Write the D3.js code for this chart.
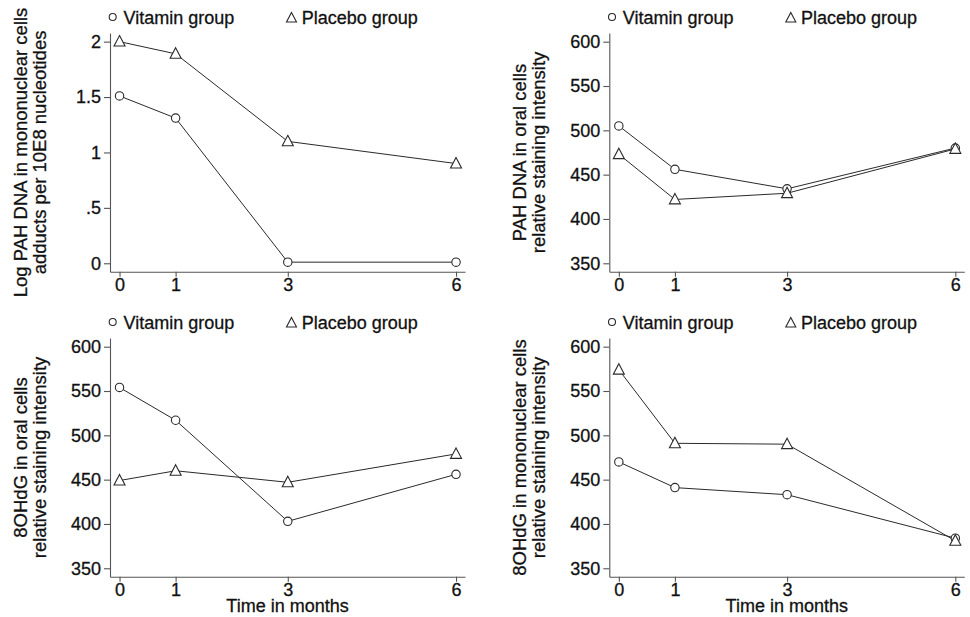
<!DOCTYPE html>
<html lang="en">
<head>
  <meta charset="UTF-8">
  <script src="https://cdn.jsdelivr.net/npm/d3@7"></script>
  <title>Vitamin vs placebo</title>
  <style>
    body { margin: 0; background: #fff; }
    svg { display: block; }
    text { font-family: "Liberation Sans", Arial, sans-serif; fill: #111; stroke: #111; stroke-width: 0.3px; }
  </style>
</head>
<body>
<div id="chart"></div>
<script>
  // months on the x axis
  var months = [0, 1, 3, 6];

  // series
  var pahMonoVitamin  = [1.51, 1.31, 0.01, 0.01];
  var pahMonoPlacebo  = [2.00, 1.89, 1.10, 0.90];
  var pahOralVitamin  = [505, 456, 434, 480];
  var pahOralPlacebo  = [473, 422, 429, 479];
  var ohdgOralVitamin = [554, 517, 403, 456];
  var ohdgOralPlacebo = [449, 460, 447, 479];
  var ohdgMonoVitamin = [470, 441, 433, 384];
  var ohdgMonoPlacebo = [574, 491, 490, 381];

  // tick labels
  var logTicks = [0, 0.5, 1, 1.5, 2];
  var logTickLabels = ["0", ".5", "1", "1.5", "2"];
  var stainTicks = [350, 400, 450, 500, 550, 600];
  var legendLabels = ["Vitamin group", "Placebo group"];

  var width = 970, height = 617;
  var svg = d3.select("#chart").append("svg")
      .attr("width", width)
      .attr("height", height);

  var lineColor = "#2a2a2a", axisColor = "#555";

  var panels = [
    { left: 110,   top: 33,  bottom: 271.7, yDomain: [-0.076, 2.078], ticks: logTicks, tickLabels: logTickLabels,
      vit: pahMonoVitamin, pla: pahMonoPlacebo,
      title: ["Log PAH DNA in mononuclear cells", "adducts per 10E8 nucleotides"], xTitle: false },
    { left: 609.3, top: 33,  bottom: 271.7, yDomain: [340.5, 609.8], ticks: stainTicks, tickLabels: null,
      vit: pahOralVitamin, pla: pahOralPlacebo,
      title: ["PAH DNA in oral cells", "relative staining intensity"], xTitle: false },
    { left: 110,   top: 338, bottom: 576.7, yDomain: [340.5, 609.8], ticks: stainTicks, tickLabels: null,
      vit: ohdgOralVitamin, pla: ohdgOralPlacebo,
      title: ["8OHdG in oral cells", "relative staining intensity"], xTitle: true },
    { left: 609.3, top: 338, bottom: 576.7, yDomain: [340.5, 609.8], ticks: stainTicks, tickLabels: null,
      vit: ohdgMonoVitamin, pla: ohdgMonoPlacebo,
      title: ["8OHdG in mononuclear cells", "relative staining intensity"], xTitle: true }
  ];

  var triangle = function(s) {
    return "M0," + (-s * 0.55) + "L" + (s * 0.5) + "," + (s * 0.4) + "L" + (-s * 0.5) + "," + (s * 0.4) + "Z";
  };

  panels.forEach(function(p) {
    var x = d3.scaleLinear().domain([-0.17, 6.16]).range([p.left, p.left + 355]);
    var y = d3.scaleLinear().domain(p.yDomain).range([p.bottom, p.top]);
    var g = svg.append("g");

    // axes
    var yAxis = d3.axisLeft(y).tickValues(p.ticks).tickSize(6).tickSizeOuter(0).tickPadding(3);
    if (p.tickLabels) yAxis.tickFormat(function(d, i) { return p.tickLabels[i]; });
    var ya = g.append("g").attr("transform", "translate(" + p.left + ",0)").call(yAxis);

    var xa = g.append("g").attr("transform", "translate(0," + p.bottom + ")")
      .call(d3.axisBottom(x).tickValues(months).tickSize(5).tickSizeOuter(0).tickPadding(2).tickFormat(d3.format("d")));

    [ya, xa].forEach(function(a) {
      a.selectAll("path, line").attr("stroke", axisColor).attr("stroke-width", 1.1);
      a.selectAll("text").attr("font-size", 18).attr("fill", "#111")
        .style("font-family", "'Liberation Sans', Arial, sans-serif");
    });

    // y title, two lines
    var cy = (y(p.ticks[0]) + y(p.ticks[p.ticks.length - 1])) / 2;
    p.title.forEach(function(t, i) {
      g.append("text")
        .attr("transform", "translate(" + (p.left - 83 + i * 18.5) + "," + cy + ") rotate(-90)")
        .attr("text-anchor", "middle")
        .attr("font-size", 18.5)
        .text(t);
    });

    if (p.xTitle) {
      g.append("text")
        .attr("x", p.left + 177.5)
        .attr("y", p.bottom + 35.5)
        .attr("text-anchor", "middle")
        .attr("font-size", 18)
        .text("Time in months");
    }

    // lines
    var line = d3.line()
      .x(function(d, i) { return x(months[i]); })
      .y(function(d) { return y(d); });

    [p.vit, p.pla].forEach(function(series) {
      g.append("path")
        .datum(series)
        .attr("fill", "none")
        .attr("stroke", lineColor)
        .attr("stroke-width", 1)
        .attr("d", line);
    });

    // markers
    g.selectAll(".vit")
      .data(p.vit)
      .enter().append("circle")
      .attr("cx", function(d, i) { return x(months[i]); })
      .attr("cy", function(d) { return y(d); })
      .attr("r", 4.2)
      .attr("fill", "#fff")
      .attr("stroke", lineColor)
      .attr("stroke-width", 1.1);

    g.selectAll(".pla")
      .data(p.pla)
      .enter().append("path")
      .attr("transform", function(d, i) { return "translate(" + x(months[i]) + "," + y(d) + ")"; })
      .attr("d", triangle(11))
      .attr("fill", "#fff")
      .attr("stroke", lineColor)
      .attr("stroke-width", 1.1);

    // legend
    var ly = p.top - 9;
    g.append("circle")
      .attr("cx", p.left + 2.7).attr("cy", ly - 7)
      .attr("r", 3.5)
      .attr("fill", "#fff").attr("stroke", lineColor).attr("stroke-width", 1.1);
    g.append("text")
      .attr("x", p.left + 13.5).attr("y", ly)
      .attr("font-size", 18)
      .text(legendLabels[0]);
    g.append("path")
      .attr("transform", "translate(" + (p.left + 181.5) + "," + (ly - 6) + ")")
      .attr("d", triangle(10))
      .attr("fill", "#fff").attr("stroke", lineColor).attr("stroke-width", 1.1);
    g.append("text")
      .attr("x", p.left + 191.7).attr("y", ly)
      .attr("font-size", 18)
      .text(legendLabels[1]);
  });
</script>
</body>
</html>
